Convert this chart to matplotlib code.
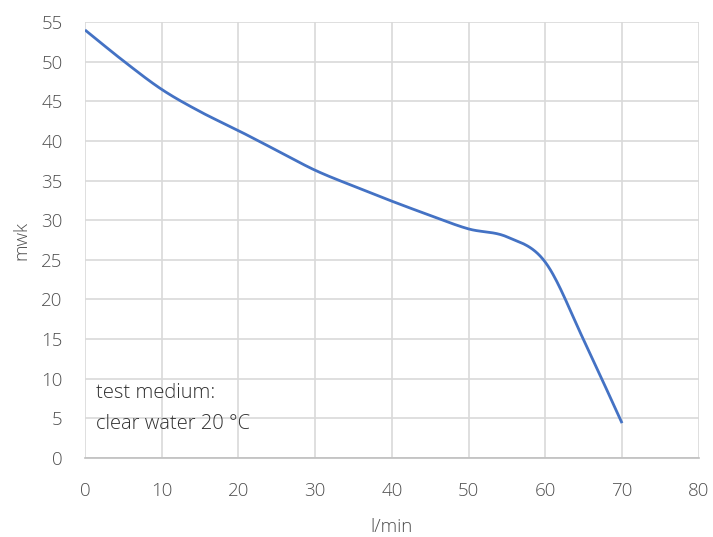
import numpy as np
import matplotlib
matplotlib.use("Agg")
import matplotlib.pyplot as plt

flow = [0, 5, 10, 15, 20, 25, 30, 35, 40, 45, 50, 55, 60, 65, 70]
head = [54.0, 50.1, 46.5, 43.7, 41.3, 38.8, 36.3, 34.3, 32.4, 30.6, 28.9, 27.9, 24.7, 14.9, 4.4]
x_ticks = [0, 10, 20, 30, 40, 50, 60, 70, 80]
y_ticks = [0, 5, 10, 15, 20, 25, 30, 35, 40, 45, 50, 55]
x_label = "l/min"
y_label = "mwk"
note = "test medium:\nclear water 20 \u00b0C"

def catmull_rom(xs, ys, n=30):
    xs = np.asarray(xs, float); ys = np.asarray(ys, float)
    px = np.concatenate([[2*xs[0]-xs[1]], xs, [2*xs[-1]-xs[-2]]])
    py = np.concatenate([[2*ys[0]-ys[1]], ys, [2*ys[-1]-ys[-2]]])
    ox, oy = [], []
    for i in range(1, len(px)-2):
        t = np.linspace(0, 1, n, endpoint=(i == len(px)-3))
        for arr, out in ((px, ox), (py, oy)):
            p0, p1, p2, p3 = arr[i-1], arr[i], arr[i+1], arr[i+2]
            out.extend(0.5*((2*p1) + (-p0+p2)*t + (2*p0-5*p1+4*p2-p3)*t**2 + (-p0+3*p1-3*p2+p3)*t**3))
    return np.array(ox), np.array(oy)

plt.rcParams['font.family'] = ['Open Sans', 'DejaVu Sans']

fig = plt.figure(figsize=(7.13, 5.37), dpi=100)
ax = fig.add_axes([0.1192, 0.1471, 0.9800 - 0.1192, 0.959 - 0.1471])

sx, sy = catmull_rom(flow, head)
ax.plot(sx, sy, color='#4472c4', lw=2.0, solid_capstyle='butt')

ax.set_xlim(0, 80)
ax.set_ylim(0, 55)
ax.set_xticks(x_ticks)
ax.set_yticks(y_ticks)
ax.grid(True, color='#d9d9d9', lw=1.2)
ax.set_axisbelow(True)
for s in ['top', 'right', 'left']:
    ax.spines[s].set_visible(False)
ax.spines['bottom'].set_color('#bfbfbf')
ax.spines['bottom'].set_linewidth(1.2)
ax.tick_params(length=0, labelsize=13.5, colors='#505050')
ax.tick_params(axis='x', pad=17)
ax.tick_params(axis='y', pad=16)
for lab in ax.get_xticklabels() + ax.get_yticklabels():
    lab.set_fontweight('light')
ax.set_xlabel(x_label, fontsize=13.5, color='#505050', fontweight='light', labelpad=13)
ax.set_ylabel(y_label, fontsize=13.5, color='#505050', fontweight='light', labelpad=8)

ax.text(1.4, 6.2, note, fontsize=14.5, color='#303030', fontweight='light',
        va='center', ha='left', linespacing=1.75)

fig.savefig('out.png', dpi=100)
